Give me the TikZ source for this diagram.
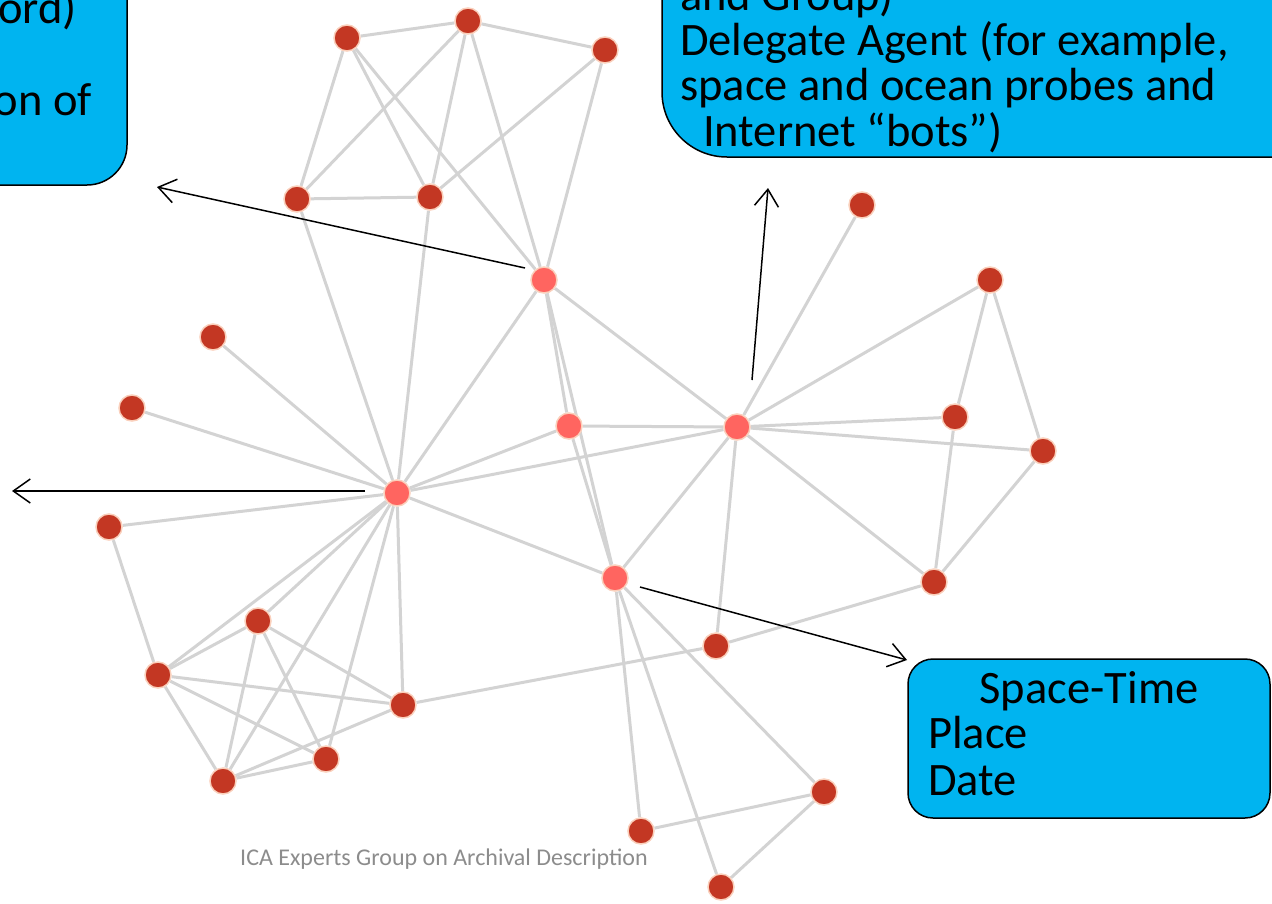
\documentclass[tikz,border=0pt]{standalone}
\usepackage{fontspec}
\setmainfont{Carlito}
\usetikzlibrary{arrows.meta,backgrounds}
\definecolor{darknode}{HTML}{C33723}
\definecolor{hubnode}{HTML}{FF6560}
\definecolor{halo}{HTML}{FAD0BC}
\definecolor{edgegray}{HTML}{D3D3D3}
\definecolor{boxblue}{HTML}{00B4F0}
\definecolor{footgray}{HTML}{8C8C8C}
\begin{document}
\begin{tikzpicture}[x=1pt,y=-1pt,
  dnode/.style={circle,minimum size=26pt,inner sep=0pt,fill=darknode,draw=halo,line width=1.5pt},
  hnode/.style={dnode,fill=hubnode},
  linkline/.style={draw=edgegray,line width=3pt},
  annot/.style={draw=black,line width=1.5pt,-{Straight Barb[length=17pt,width=24pt,line width=1.5pt]}},
  infobox/.style={draw=black,line width=1.5pt,fill=boxblue},
  boxtext/.style={font=\fontsize{46.5}{46}\selectfont,inner sep=0pt}
]
\useasboundingbox (0,0) rectangle (1272,903);

% boxes
\begin{scope}
\clip (0,0) rectangle (1272,903);
\draw[infobox,rounded corners=40pt] (-100,-100) rectangle (127,185);
\draw[infobox,rounded corners=65pt] (662,-200) rectangle (1400,157);
\node[boxtext,anchor=base east] (tl1) at (77,23) {ord)};
\node[boxtext,anchor=base east] (tl2) at (92,115) {on of};
\node[boxtext,anchor=base west] (tr1) at (680,10) {and Group)};
\node[boxtext,anchor=base west] (tr2) at (680,55) {Delegate Agent (for example,};
\node[boxtext,anchor=base west] (tr3) at (680,100) {space and ocean probes and};
\node[boxtext,anchor=base west] (tr4) at (703,146) {Internet “bots”)};
\end{scope}
\draw[infobox,rounded corners=25pt] (908,659) rectangle (1270,818);
\node[boxtext,anchor=base] (st1) at (1089,703) {Space-Time};
\node[boxtext,anchor=base west] (st2) at (928,748) {Place};
\node[boxtext,anchor=base west] (st3) at (928,795) {Date};

% footer
\node[font=\fontsize{24}{26}\selectfont,text=footgray,anchor=base west,inner sep=0pt] (foot) at (240,865) {ICA Experts Group on Archival Description};

% nodes
\node[hnode] (H1) at (544,280) {};
\node[hnode] (H2) at (569,426) {};
\node[hnode] (H3) at (737,427) {};
\node[hnode] (H4) at (397,493) {};
\node[hnode] (H5) at (615,578) {};
\node[dnode] (T1) at (347,38) {};
\node[dnode] (T2) at (468,21) {};
\node[dnode] (T3) at (605,50) {};
\node[dnode] (T4) at (297,199) {};
\node[dnode] (T5) at (430,197) {};
\node[dnode] (R1) at (862,205) {};
\node[dnode] (R2) at (990,280) {};
\node[dnode] (R3) at (955,417) {};
\node[dnode] (R4) at (1043,451) {};
\node[dnode] (R5) at (934,582) {};
\node[dnode] (M1) at (716,646) {};
\node[dnode] (L1) at (213,337) {};
\node[dnode] (L2) at (132,408) {};
\node[dnode] (L3) at (109,527) {};
\node[dnode] (B1) at (258,621) {};
\node[dnode] (B2) at (158,675) {};
\node[dnode] (B3) at (403,705) {};
\node[dnode] (B4) at (326,759) {};
\node[dnode] (B5) at (223,781) {};
\node[dnode] (S1) at (824,792) {};
\node[dnode] (S2) at (641,831) {};
\node[dnode] (S3) at (721,887) {};

\begin{pgfonlayer}{background}
\foreach \a/\b in {T1/T2,T2/T3,T1/T4,T1/T5,T1/H1,T2/T4,T2/T5,T2/H1,T3/T5,T3/H1,T4/T5,T4/H4,T5/H4,
  H1/H4,H1/H2,H1/H5,H2/H5,H1/H3,H2/H3,H2/H4,H3/H4,H3/H5,H3/M1,H3/R1,H3/R2,H3/R3,H3/R4,H3/R5,
  R2/R3,R2/R4,R3/R5,R4/R5,R5/M1,B3/M1,H4/H5,H4/L1,H4/L2,H4/L3,H4/B1,H4/B2,H4/B3,H4/B4,H4/B5,
  L3/B2,B2/B1,B2/B3,B2/B4,B2/B5,B1/B5,B1/B4,B1/B3,B5/B4,B5/B3,H5/S2,H5/S3,H5/S1,S1/S2,S1/S3}
  \draw[linkline] (\a) -- (\b);
\end{pgfonlayer}

% annotation arrows
\coordinate (a1s) at (525,268);
\coordinate (a1e) at (157,187);
\coordinate (a2s) at (365,491);
\coordinate (a2e) at (12,491);
\coordinate (a3s) at (752,380);
\coordinate (a3e) at (768,188);
\coordinate (a4s) at (640,587);
\coordinate (a4e) at (907,660);
\draw[annot] (a1s) -- (a1e);
\draw[annot] (a2s) -- (a2e);
\draw[annot] (a3s) -- (a3e);
\draw[annot] (a4s) -- (a4e);
\end{tikzpicture}
\end{document}
